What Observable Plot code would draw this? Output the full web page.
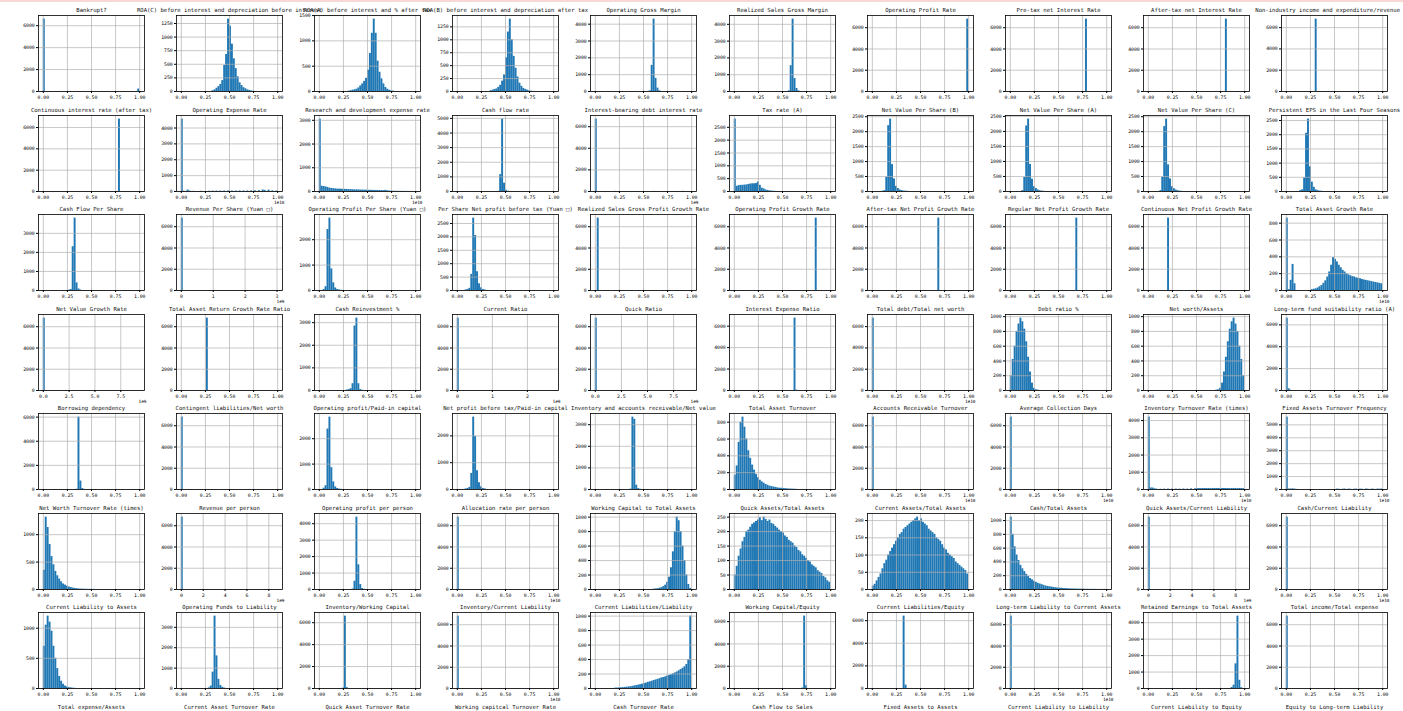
<!DOCTYPE html>
<html><head><meta charset="utf-8">
<script src="https://cdn.jsdelivr.net/npm/d3@7"></script>
<script src="https://cdn.jsdelivr.net/npm/@observablehq/plot@0.6"></script>
<style>
html,body{margin:0;padding:0;background:#fff;}
#fig{position:relative;width:1403px;height:711px;overflow:hidden;background:#fff;}
#fig svg{position:absolute;overflow:visible;}
.band{position:absolute;left:0;top:0;width:1403px;height:2px;background:#f8d7d7;}
</style></head><body><div id="fig"><div class="band"></div></div>
<script>
const titles = [
"Bankrupt?","ROA(C) before interest and depreciation before interest","ROA(A) before interest and % after tax","ROA(B) before interest and depreciation after tax","Operating Gross Margin","Realized Sales Gross Margin","Operating Profit Rate","Pre-tax net Interest Rate","After-tax net Interest Rate","Non-industry income and expenditure/revenue",
"Continuous interest rate (after tax)","Operating Expense Rate","Research and development expense rate","Cash flow rate","Interest-bearing debt interest rate","Tax rate (A)","Net Value Per Share (B)","Net Value Per Share (A)","Net Value Per Share (C)","Persistent EPS in the Last Four Seasons",
"Cash Flow Per Share","Revenue Per Share (Yuan \u25A1)","Operating Profit Per Share (Yuan \u25A1)","Per Share Net profit before tax (Yuan \u25A1)","Realized Sales Gross Profit Growth Rate","Operating Profit Growth Rate","After-tax Net Profit Growth Rate","Regular Net Profit Growth Rate","Continuous Net Profit Growth Rate","Total Asset Growth Rate",
"Net Value Growth Rate","Total Asset Return Growth Rate Ratio","Cash Reinvestment %","Current Ratio","Quick Ratio","Interest Expense Ratio","Total debt/Total net worth","Debt ratio %","Net worth/Assets","Long-term fund suitability ratio (A)",
"Borrowing dependency","Contingent liabilities/Net worth","Operating profit/Paid-in capital","Net profit before tax/Paid-in capital","Inventory and accounts receivable/Net value","Total Asset Turnover","Accounts Receivable Turnover","Average Collection Days","Inventory Turnover Rate (times)","Fixed Assets Turnover Frequency",
"Net Worth Turnover Rate (times)","Revenue per person","Operating profit per person","Allocation rate per person","Working Capital to Total Assets","Quick Assets/Total Assets","Current Assets/Total Assets","Cash/Total Assets","Quick Assets/Current Liability","Cash/Current Liability",
"Current Liability to Assets","Operating Funds to Liability","Inventory/Working Capital","Inventory/Current Liability","Current Liabilities/Liability","Working Capital/Equity","Current Liabilities/Equity","Long-term Liability to Current Assets","Retained Earnings to Total Assets","Total income/Total expense",
"Total expense/Assets","Current Asset Turnover Rate","Quick Asset Turnover Rate","Working capitcal Turnover Rate","Cash Turnover Rate","Cash Flow to Sales","Fixed Assets to Assets","Current Liability to Liability","Current Liability to Equity","Equity to Long-term Liability"
];

// sparse histogram counts per panel: [bin index (of 50), count]
const counts = [
[[0,6599],[49,220]],
[[16,15],[17,30],[18,60],[19,90],[20,130],[21,200],[22,480],[23,680],[24,1330],[25,1200],[26,870],[27,600],[28,420],[29,270],[30,160],[31,110],[32,70],[33,50],[34,30],[35,20],[36,10],[37,5]],
[[15,8],[16,15],[17,25],[18,35],[19,45],[20,70],[21,110],[22,150],[23,200],[24,260],[25,420],[26,750],[27,1150],[28,1430],[29,1150],[30,600],[31,380],[32,250],[33,150],[34,80],[35,45],[36,25],[37,12],[38,8]],
[[17,15],[18,25],[19,40],[20,50],[21,80],[22,120],[23,200],[24,320],[25,650],[26,1150],[27,1400],[28,1000],[29,680],[30,450],[31,280],[32,160],[33,100],[34,60],[35,40],[36,25],[37,12],[38,6]],
[[28,40],[29,1550],[30,4300],[31,780],[32,200],[33,40]],
[[28,40],[29,1540],[30,4310],[31,770],[32,180],[33,40]],
[[49,6810]],
[[39,6810]],
[[40,6810]],
[[15,6800]],
[[39,6790]],
[[0,4560],[1,20],[3,90],[4,30],[6,10],[10,15],[14,20],[16,25],[18,30],[20,25],[22,30],[24,35],[26,30],[28,30],[30,35],[32,30],[34,35],[36,40],[38,45],[40,50],[42,90],[43,70],[45,85],[47,40],[49,30]],
[[0,3050],[1,220],[2,210],[3,190],[4,170],[5,140],[6,130],[7,120],[8,110],[9,100],[10,100],[11,95],[12,90],[13,90],[14,85],[15,80],[16,80],[17,75],[18,70],[19,70],[20,65],[21,60],[22,60],[23,55],[24,55],[25,50],[26,50],[27,50],[28,45],[29,45],[30,45],[31,40],[32,40],[33,35],[34,50],[35,30],[36,20],[37,15],[38,10],[39,10],[40,8],[41,6],[42,5],[43,5],[44,4],[45,3],[46,3],[47,2],[48,2],[49,2]],
[[21,10],[22,1150],[23,4950],[24,570],[25,80],[26,20]],
[[0,6700],[10,10],[30,10],[45,15]],
[[0,2820],[1,200],[2,230],[3,240],[4,240],[5,250],[6,255],[7,275],[8,290],[9,300],[10,300],[11,310],[12,370],[13,240],[14,130],[15,100],[16,60],[17,40],[18,25],[19,15],[20,10],[21,5]],
[[5,10],[6,30],[7,480],[8,2200],[9,2420],[10,900],[11,420],[12,170],[13,100],[14,50],[15,30],[16,15],[17,10],[18,5]],
[[6,30],[7,470],[8,2180],[9,2410],[10,900],[11,410],[12,160],[13,100],[14,50],[15,25],[16,12],[17,6]],
[[6,30],[7,480],[8,2170],[9,2420],[10,890],[11,420],[12,160],[13,95],[14,50],[15,25],[16,12],[17,6]],
[[7,30],[8,60],[9,480],[10,2050],[11,2550],[12,870],[13,330],[14,150],[15,60],[16,30],[17,15],[18,8]],
[[13,20],[14,50],[15,2300],[16,3800],[17,400],[18,80],[19,20]],
[[0,6810]],
[[2,40],[3,150],[4,2400],[5,2850],[6,850],[7,300],[8,100],[9,40],[10,20],[11,10]],
[[4,20],[5,40],[6,80],[7,600],[8,2700],[9,2050],[10,700],[11,250],[12,100],[13,40],[14,20]],
[[1,6810]],
[[42,6810]],
[[34,6810]],
[[34,6810]],
[[10,6810]],
[[0,860],[1,10],[2,120],[3,310],[4,80],[13,10],[14,15],[15,20],[16,30],[17,45],[18,60],[19,85],[20,115],[21,160],[22,220],[23,300],[24,390],[25,370],[26,340],[27,300],[28,270],[29,240],[30,220],[31,200],[32,185],[33,175],[34,165],[35,160],[36,150],[37,145],[38,140],[39,130],[40,125],[41,120],[42,115],[43,110],[44,105],[45,100],[46,95],[47,90],[48,85],[49,80]],
[[0,6810]],
[[13,6810]],
[[14,20],[15,40],[16,80],[17,300],[18,2850],[19,3200],[20,300],[21,40],[22,10]],
[[0,6810]],
[[0,6810]],
[[31,6750],[32,30]],
[[0,6800]],
[[0,200],[1,420],[2,600],[3,800],[4,900],[5,980],[6,930],[7,830],[8,660],[9,450],[10,250],[11,100],[12,30],[13,10],[14,5]],
[[49,200],[48,420],[47,600],[46,800],[45,900],[44,980],[43,930],[42,830],[41,660],[40,450],[39,250],[38,100],[37,30],[36,10],[35,5]],
[[0,6620],[1,150],[2,20]],
[[17,20],[18,6000],[19,700],[20,80],[21,10]],
[[0,6810]],
[[2,50],[3,150],[4,2380],[5,2850],[6,860],[7,300],[8,100],[9,40],[10,15],[11,8]],
[[4,20],[5,40],[6,80],[7,600],[8,2700],[9,1980],[10,700],[11,250],[12,100],[13,40],[14,20]],
[[18,20],[19,3350],[20,3250],[21,200],[22,40],[23,10]],
[[0,170],[1,280],[2,560],[3,800],[4,860],[5,740],[6,600],[7,460],[8,370],[9,290],[10,230],[11,180],[12,140],[13,110],[14,90],[15,75],[16,60],[17,50],[18,40],[19,35],[20,30],[21,25],[22,20],[23,15],[24,15],[25,12],[26,10],[27,8],[28,6],[29,5],[30,4],[31,3],[32,2]],
[[0,6810]],
[[0,6810]],
[[0,4200],[1,90],[2,85],[3,40],[4,20],[6,15],[8,20],[10,25],[12,20],[14,25],[16,20],[18,30],[20,25],[22,40],[24,45],[25,50],[26,55],[27,50],[28,55],[29,60],[30,55],[31,60],[32,50],[33,55],[34,60],[35,55],[36,60],[37,50],[38,55],[39,60],[40,55],[41,60],[42,50],[43,55],[44,60],[45,55],[46,50],[47,60],[48,55],[49,50]],
[[0,5600],[1,40],[2,35],[3,50],[4,30],[5,10],[26,30],[27,20],[29,25],[30,35],[32,30],[33,20],[35,25],[36,30],[38,30],[39,20],[41,35],[42,25],[44,30],[45,20],[47,30],[48,25],[49,35]],
[[0,350],[1,1320],[2,1130],[3,820],[4,600],[5,450],[6,330],[7,250],[8,190],[9,140],[10,100],[11,80],[12,60],[13,45],[14,35],[15,25],[16,20],[17,15],[18,10],[19,8],[20,6],[21,5],[22,4],[23,3],[24,3],[25,2],[26,2]],
[[0,6810]],
[[17,30],[18,500],[19,4400],[20,1500],[21,300],[22,60],[23,15]],
[[0,6810]],
[[30,5],[31,8],[32,12],[33,18],[34,25],[35,40],[36,60],[37,100],[38,170],[39,300],[40,520],[41,800],[42,1000],[43,950],[44,800],[45,600],[46,400],[47,200],[48,70],[49,15]],
[[0,50],[1,80],[2,115],[3,140],[4,165],[5,180],[6,200],[7,205],[8,215],[9,225],[10,230],[11,235],[12,240],[13,248],[14,238],[15,250],[16,242],[17,235],[18,240],[19,228],[20,225],[21,218],[22,212],[23,205],[24,200],[25,195],[26,185],[27,180],[28,170],[29,165],[30,160],[31,150],[32,145],[33,135],[34,130],[35,120],[36,115],[37,108],[38,100],[39,95],[40,85],[41,80],[42,75],[43,65],[44,60],[45,55],[46,45],[47,40],[48,30],[49,25]],
[[0,10],[1,15],[2,25],[3,35],[4,45],[5,60],[6,75],[7,85],[8,100],[9,110],[10,120],[11,130],[12,140],[13,150],[14,160],[15,165],[16,175],[17,180],[18,185],[19,190],[20,195],[21,200],[22,205],[23,210],[24,200],[25,205],[26,195],[27,190],[28,185],[29,175],[30,170],[31,165],[32,160],[33,150],[34,145],[35,140],[36,130],[37,120],[38,115],[39,105],[40,100],[41,95],[42,90],[43,80],[44,75],[45,70],[46,65],[47,60],[48,55],[49,45]],
[[0,1050],[1,800],[2,620],[3,500],[4,420],[5,350],[6,300],[7,260],[8,220],[9,190],[10,160],[11,140],[12,120],[13,105],[14,90],[15,80],[16,70],[17,60],[18,50],[19,45],[20,40],[21,35],[22,30],[23,25],[24,22],[25,20],[26,18],[27,15],[28,13],[29,12],[30,10],[31,9],[32,8],[33,7],[34,6],[35,5],[36,5],[37,4],[38,4],[39,3],[40,3],[41,2],[42,2],[43,2],[44,2],[45,1],[46,1],[47,1],[48,1],[49,1]],
[[0,6810]],
[[0,6810]],
[[0,700],[1,1050],[2,1200],[3,1100],[4,950],[5,700],[6,500],[7,330],[8,200],[9,120],[10,70],[11,40],[12,25],[13,15],[14,10],[15,5],[16,3]],
[[14,30],[15,120],[16,800],[17,3550],[18,1600],[19,450],[20,150],[21,60],[22,20]],
[[12,40],[13,6600],[14,80]],
[[0,6810]],
[[10,5],[11,6],[12,8],[13,10],[14,12],[15,15],[16,18],[17,22],[18,25],[19,30],[20,36],[21,40],[22,47],[23,52],[24,60],[25,68],[26,74],[27,85],[28,92],[29,100],[30,110],[31,118],[32,126],[33,135],[34,146],[35,152],[36,160],[37,172],[38,180],[39,190],[40,202],[41,215],[42,228],[43,245],[44,262],[45,280],[46,300],[47,332],[48,400],[49,1000]],
[[35,40],[36,6500],[37,250]],
[[16,6400],[17,300]],
[[0,6810]],
[[43,60],[44,200],[45,1500],[46,4400],[47,500],[48,50]],
[[0,6810]]
];

// y tick step per panel
const yStep = [
2000,250,500,250,1000,1000,2000,2000,2000,2000,
2000,1000,1000,1000,2000,500,500,500,500,500,
1000,2000,1000,500,2000,2000,2000,2000,2000,200,
2000,2000,1000,2000,2000,2000,2000,200,200,2000,
2000,2000,1000,1000,1000,200,2000,2000,1000,1000,
500,2000,1000,2000,200,50,50,200,2000,2000,
500,1000,2000,2000,200,2000,2000,2000,1000,2000
];

// panels whose data range is not [0, 1] (in offset units) and their x tick step
const wideIdx  = [21, 30, 33, 34, 51, 58];
const wideMax  = [3.02, 9.33, 2.75, 9.23, 8.81, 8.82];
const wideStep = [1, 2.5, 1, 2.5, 2, 2];

// x-axis offset texts
const offIdx = [11, 12, 14, 21, 29, 30, 33, 34, 36, 46, 47, 48, 49, 51, 53, 58, 59, 63, 67];
const offTxt = ["1e10","1e10","1e9","1e9","1e10","1e9","1e9","1e9","1e10","1e10","1e10","1e10","1e10","1e9","1e10","1e9","1e10","1e10","1e10"];

const COL0 = 37.5, COLSTEP = 138.2, PW = 106, ROW0 = 15, ROWSTEP = 99.57, PH = 76;
const ML = 32, MR = 14, MT = 14, MB = 18;
const FONT = "DejaVu Sans Mono";
const fig = document.getElementById("fig");
const figRight = 1401;

titles.forEach((title, i) => {
  const r = Math.floor(i / 10), c = i % 10;
  const marks = [];
  let opts;
  if (i < counts.length) {
    const wi = wideIdx.indexOf(i);
    const hi = wi >= 0 ? wideMax[wi] : 1;
    const step = wi >= 0 ? wideStep[wi] : 0.25;
    const dec = step === 2.5 ? 1 : (step >= 1 ? 0 : 2);
    const fmt = d3.format("." + dec + "f");
    const w = hi / 50;
    const bars = counts[i].map(([b, n]) => ({x1: b * w, x2: (b + 1) * w, n}));
    const ymax = d3.max(bars, d => d.n) * 1.05;
    const xt = d3.range(0, hi + 1e-9, step);
    const yt = d3.range(0, ymax + 1e-9, yStep[i]);
    const pad = hi * 0.05;
    marks.push(
      Plot.rect(bars, {x1: "x1", x2: "x2", y1: 0, y2: "n", fill: "#1f77b4"}),
      Plot.gridX(xt, {stroke: "#b0b0b0", strokeOpacity: 1, strokeWidth: 0.7}),
      Plot.gridY(yt, {stroke: "#b0b0b0", strokeOpacity: 1, strokeWidth: 0.7}),
      Plot.frame({stroke: "#000", strokeWidth: 0.8}),
      Plot.axisX(xt, {tickSize: 2, tickPadding: 2.5, tickFormat: fmt, label: null, fontSize: 4.8}),
      Plot.axisY(yt, {tickSize: 2, tickPadding: 1.8, tickFormat: "d", label: null, fontSize: 4.8})
    );
    const oi = offIdx.indexOf(i);
    if (oi >= 0) {
      marks.push(Plot.text([offTxt[oi]], {frameAnchor: "bottom-right", dy: 12.5, dx: 2, textAnchor: "end", fontSize: 4.4}));
    }
    opts = {
      x: {domain: [-pad, hi + pad], label: null},
      y: {domain: [0, ymax], label: null}
    };
  } else {
    opts = {x: {domain: [0, 1], axis: null}, y: {domain: [0, 1], axis: null}};
  }
  marks.push(Plot.text([title], {frameAnchor: "top", dy: -7, fontSize: 5.6, fill: "#111"}));
  const svg = Plot.plot({
    ...opts,
    width: PW + ML + MR, height: PH + MT + MB,
    marginLeft: ML, marginRight: MR, marginTop: MT, marginBottom: MB,
    style: {fontFamily: FONT, fontSize: "4.8px", background: "transparent", overflow: "visible", color: "#000"},
    marks
  });
  svg.style.left = (COL0 + c * COLSTEP - ML) + "px";
  svg.style.top = (ROW0 + r * ROWSTEP - MT) + "px";
  fig.appendChild(svg);
  // keep a title that would run past the right edge of the figure inside it
  const figBox = fig.getBoundingClientRect();
  svg.querySelectorAll("text").forEach(t => {
    if (t.textContent === title) {
      const b = t.getBoundingClientRect();
      const over = b.right - figBox.left - figRight;
      if (over > 0) t.setAttribute("transform", `translate(${-over},0) ` + (t.getAttribute("transform") || ""));
    }
  });
});
</script></body></html>
